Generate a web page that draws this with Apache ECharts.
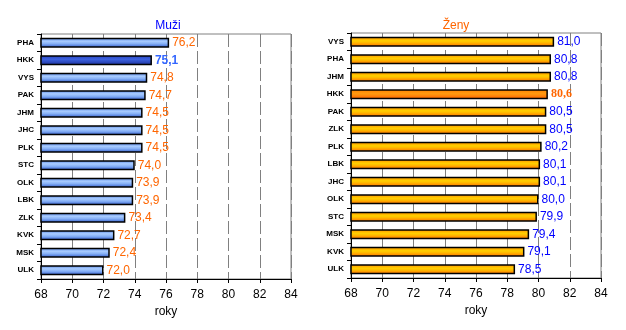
<!DOCTYPE html>
<html><head><meta charset="utf-8">
<script src="https://cdn.jsdelivr.net/npm/echarts@6/dist/echarts.min.js"></script>
<style>html,body{margin:0;padding:0;background:#fff}#c{width:626px;height:330px}</style>
</head><body><div id="c"></div>
<script>
var menCategories = ['PHA','HKK','VYS','PAK','JHM','JHC','PLK','STC','OLK','LBK','ZLK','KVK','MSK','ULK'];
var menValues = [76.2,75.1,74.8,74.7,74.5,74.5,74.5,74.0,73.9,73.9,73.4,72.7,72.4,72.0];
var womenCategories = ['VYS','PHA','JHM','HKK','PAK','ZLK','PLK','LBK','JHC','OLK','STC','MSK','KVK','ULK'];
var womenValues = [81.0,80.8,80.8,80.6,80.5,80.5,80.2,80.1,80.1,80.0,79.9,79.4,79.1,78.5];
var xTicks = [68,70,72,74,76,78,80,82,84];
var highlight = 'HKK';

function grad(stops){
  return new echarts.graphic.LinearGradient(0,0,0,1,stops.map(function(s){return {offset:s[0],color:s[1]};}));
}
var blue = grad([[0,'#4f7fe0'],[0.35,'#a9ccff'],[0.6,'#86b0f6'],[1,'#2a55c8']]);
var blueHi = grad([[0,'#2340b8'],[0.4,'#3d62e0'],[1,'#1a2f9a']]);
var orange = grad([[0,'#ff8a00'],[0.4,'#ffd000'],[0.6,'#ffb800'],[1,'#ff6a00']]);
var orangeHi = grad([[0,'#ff8000'],[0.45,'#ff9a10'],[1,'#ff6000']]);
function fmt(p){ return p.value.toFixed(1).replace('.', ','); }

function build(cats, vals, hiFill, hiLbl){
  return vals.map(function(v,i){
    var item = {value: v};
    if (cats[i] === highlight) {
      item.itemStyle = {color: hiFill};
      item.label = hiLbl;
    }
    return item;
  });
}

var gridCommon = {width: 250, height: 245, show: true, borderColor: '#808080', borderWidth: 1, backgroundColor: 'transparent'};
function xAxis(idx){
  return {
    type: 'value', gridIndex: idx, min: xTicks[0], max: xTicks[xTicks.length-1], interval: 2,
    axisLine: {show: true, lineStyle: {color: '#000', width: 1}},
    axisTick: {show: true, length: 4, lineStyle: {color: '#000'}},
    axisLabel: {fontSize: 12, color: '#000', margin: 10, fontFamily: 'Liberation Sans, Arial'},
    splitLine: {show: true, lineStyle: {color: '#808080', type: [13,4], width: 1}},
    name: 'roky', nameLocation: 'middle', nameGap: 21,
    nameTextStyle: {fontSize: 12, color: '#000', fontFamily: 'Liberation Sans, Arial'}
  };
}
function yAxis(idx, cats){
  return {
    type: 'category', gridIndex: idx, data: cats, inverse: true,
    axisLine: {show: true, lineStyle: {color: '#000', width: 1}},
    axisTick: {show: true, length: 4, lineStyle: {color: '#000'}},
    axisLabel: {fontSize: 8, fontWeight: 'bold', color: '#000', margin: 7, fontFamily: 'Liberation Sans, Arial'},
    splitLine: {show: false}
  };
}

var option = {
  animation: false,
  title: [
    {text: 'Muži', left: 163, top: 15, textAlign: 'center', textStyle: {color: '#0000ff', fontSize: 12, fontWeight: 'normal', fontFamily: 'Liberation Sans, Arial'}},
    {text: 'Ženy', left: 451, top: 15, textAlign: 'center', textStyle: {color: '#ff6600', fontSize: 12, fontWeight: 'normal', fontFamily: 'Liberation Sans, Arial'}}
  ],
  grid: [
    Object.assign({left: 41, top: 34}, gridCommon),
    Object.assign({left: 351, top: 33}, gridCommon)
  ],
  xAxis: [xAxis(0), xAxis(1)],
  yAxis: [yAxis(0, menCategories), yAxis(1, womenCategories)],
  series: [
    {
      type: 'bar', xAxisIndex: 0, yAxisIndex: 0, barWidth: 10,
      itemStyle: {color: blue, borderColor: '#000', borderWidth: 1.5},
      label: {show: true, position: 'right', distance: 3, formatter: fmt, fontSize: 12, color: '#ff6600', fontFamily: 'Liberation Sans, Arial'},
      data: build(menCategories, menValues, blueHi, {color: '#3366ff', fontWeight: 'bold'})
    },
    {
      type: 'bar', xAxisIndex: 1, yAxisIndex: 1, barWidth: 10,
      itemStyle: {color: orange, borderColor: '#000', borderWidth: 1.5},
      label: {show: true, position: 'right', distance: 3, formatter: fmt, fontSize: 12, color: '#0000ff', fontFamily: 'Liberation Sans, Arial'},
      data: build(womenCategories, womenValues, orangeHi, {color: '#ff6600', fontWeight: 'bold', fontFamily: 'Liberation Serif, Times New Roman'})
    }
  ]
};
var chart = echarts.init(document.getElementById('c'), null, {renderer: 'canvas'});
chart.setOption(option);
</script></body></html>
